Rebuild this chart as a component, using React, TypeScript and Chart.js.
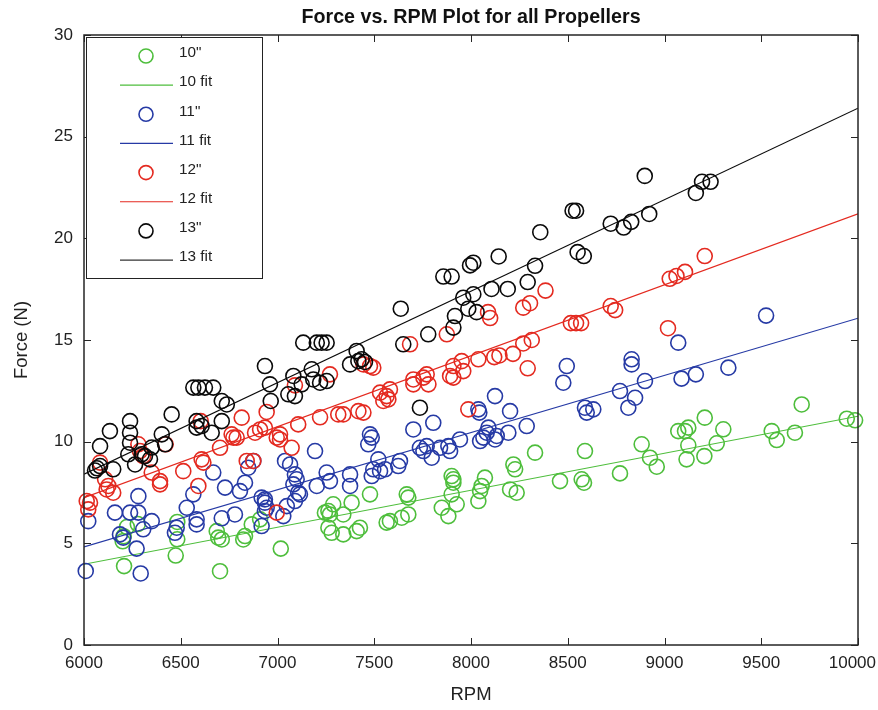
import React, { useEffect, useRef } from "react";
import { Chart, registerables } from "chart.js";

Chart.register(...registerables);

// Measured propeller thrust samples: [RPM, Force (N)]
const points10: [number, number][] = [
  [6222, 5.8], [6205, 5.35], [6200, 5.1], [6278, 5.95], [6207, 3.88], [6482, 6.05], [6482, 5.2], [6474, 4.4],
  [6686, 5.6], [6694, 5.28], [6712, 5.19], [6703, 3.63], [6823, 5.19], [6832, 5.36], [6867, 5.93], [6910, 6.18],
  [7017, 4.74], [7245, 6.51], [7263, 6.59], [7271, 6.42], [7340, 6.42], [7288, 6.92], [7383, 7.0], [7263, 5.77],
  [7280, 5.52], [7340, 5.44], [7409, 5.6], [7426, 5.77], [7478, 7.41], [7564, 6.02], [7581, 6.09], [7642, 6.26],
  [7676, 6.42], [7668, 7.41], [7676, 7.25], [7849, 6.75], [7883, 6.34], [7900, 8.31], [7909, 8.15], [7909, 7.98],
  [7900, 7.41], [7926, 6.92], [8072, 8.23], [8055, 7.82], [8047, 7.57], [8038, 7.08], [8202, 7.65], [8236, 7.49],
  [8219, 8.88], [8228, 8.64], [8331, 9.46], [8460, 8.06], [8572, 8.15], [8584, 7.98], [8589, 9.54], [8770, 8.44],
  [8882, 9.87], [8925, 9.21], [8960, 8.77], [9114, 9.13], [9206, 9.29], [9123, 9.82], [9270, 9.92], [9071, 10.52],
  [9106, 10.52], [9123, 10.69], [9304, 10.61], [9208, 11.18], [9554, 10.52], [9580, 10.08], [9674, 10.44],
  [9709, 11.83], [9942, 11.13], [9985, 11.05],
];

const points11: [number, number][] = [
  [6009, 3.64], [6022, 6.09], [6160, 6.51], [6238, 6.51], [6281, 6.51], [6281, 7.32], [6350, 6.09], [6186, 5.44],
  [6203, 5.28], [6306, 5.69], [6272, 4.74], [6293, 3.52], [6470, 5.52], [6479, 5.77], [6531, 6.75], [6565, 7.41],
  [6582, 6.18], [6582, 5.93], [6668, 8.48], [6712, 6.23], [6780, 6.42], [6729, 7.74], [6806, 7.57], [6832, 7.98],
  [6849, 8.72], [6875, 9.05], [6918, 5.85], [6935, 7.16], [6935, 7.0], [6944, 6.75], [6935, 6.59], [6918, 7.25],
  [7039, 9.05], [7065, 8.88], [7090, 8.39], [7099, 8.15], [7082, 7.9], [7107, 7.49], [7116, 7.41], [7090, 7.08],
  [7048, 6.83], [7030, 6.34], [7194, 9.54], [7254, 8.48], [7271, 8.06], [7375, 8.39], [7375, 7.82], [7203, 7.82],
  [7478, 10.36], [7487, 10.2], [7469, 9.87], [7521, 9.13], [7495, 8.64], [7530, 8.55], [7556, 8.64], [7487, 8.31],
  [7633, 9.05], [7624, 8.8], [7702, 10.6], [7805, 10.93], [7736, 9.7], [7771, 9.78], [7754, 9.54], [7797, 9.21],
  [7840, 9.7], [7883, 9.78], [7892, 9.54], [7943, 10.11], [8038, 11.59], [8043, 11.43], [8090, 10.69], [8081, 10.44],
  [8064, 10.2], [8047, 10.03], [8133, 10.28], [8124, 10.11], [8193, 10.44], [8124, 12.24], [8202, 11.5], [8288, 10.77],
  [8495, 13.72], [8477, 12.9], [8589, 11.67], [8598, 11.43], [8632, 11.59], [8770, 12.49], [8813, 11.67], [8848, 12.16],
  [8830, 14.05], [8830, 13.8], [8899, 12.98], [9071, 14.87], [9088, 13.1], [9162, 13.31], [9330, 13.64], [9525, 16.2],
];

const points12: [number, number][] = [
  [6014, 7.08], [6031, 7.0], [6022, 6.67], [6083, 8.97], [6109, 8.15], [6117, 7.65], [6126, 7.82], [6151, 7.49],
  [6281, 9.87], [6289, 9.54], [6306, 9.29], [6422, 9.87], [6350, 8.48], [6393, 8.06], [6393, 7.9], [6513, 8.55],
  [6591, 7.82], [6608, 9.13], [6617, 8.97], [6603, 11.01], [6703, 9.7], [6763, 10.36], [6772, 10.2], [6789, 10.2],
  [6815, 11.18], [6841, 9.05], [6875, 9.05], [6884, 10.44], [6910, 10.6], [6935, 10.69], [6944, 11.46], [6996, 10.2],
  [7013, 10.11], [7013, 10.36], [6996, 6.51], [7073, 9.7], [7107, 10.85], [7220, 11.2], [7271, 13.31], [7090, 12.77],
  [7314, 11.34], [7340, 11.34], [7418, 11.5], [7444, 11.43], [7444, 13.8], [7478, 13.72], [7495, 13.64], [7530, 12.41],
  [7564, 12.24], [7573, 12.08], [7547, 12.0], [7581, 12.57], [7685, 14.79], [7702, 13.06], [7702, 12.82], [7754, 13.15],
  [7771, 13.31], [7780, 12.82], [7875, 15.28], [7892, 13.23], [7909, 13.15], [7909, 13.72], [7952, 13.96], [7960, 13.47],
  [8038, 14.05], [7986, 11.59], [8088, 16.37], [8099, 16.08], [8120, 14.16], [8147, 14.24], [8217, 14.32], [8270, 14.83],
  [8314, 15.0], [8293, 13.61], [8270, 16.59], [8305, 16.81], [8385, 17.43], [8516, 15.83], [8543, 15.83], [8569, 15.83],
  [8722, 16.67], [8745, 16.47], [9018, 15.58], [9027, 18.01], [9062, 18.15], [9106, 18.35], [9208, 19.13],
];

const points13: [number, number][] = [
  [6057, 8.58], [6083, 8.8], [6067, 8.69], [6151, 8.64], [6083, 9.78], [6134, 10.52], [6238, 11.01], [6238, 10.44],
  [6238, 9.95], [6229, 9.38], [6264, 8.88], [6298, 9.38], [6315, 9.29], [6341, 9.13], [6350, 9.71], [6402, 10.36],
  [6419, 9.87], [6453, 11.34], [6565, 12.66], [6591, 12.66], [6625, 12.66], [6668, 12.66], [6582, 11.01], [6582, 10.69],
  [6608, 10.77], [6660, 10.44], [6712, 11.01], [6712, 12.0], [6738, 11.83], [6935, 13.72], [6961, 12.82], [6965, 12.0],
  [7056, 12.33], [7090, 12.24], [7082, 13.23], [7125, 12.82], [7177, 13.56], [7185, 13.06], [7220, 12.9], [7254, 12.98],
  [7133, 14.87], [7203, 14.87], [7228, 14.87], [7254, 14.87], [7409, 14.46], [7375, 13.8], [7418, 13.96], [7435, 14.05],
  [7452, 13.92], [7650, 14.79], [7637, 16.54], [7736, 11.67], [7779, 15.28], [7857, 18.12], [7900, 18.12], [7909, 15.61],
  [7917, 16.18], [7960, 17.08], [7986, 16.54], [8012, 17.25], [8029, 16.37], [7995, 18.67], [8012, 18.8], [8106, 17.51],
  [8190, 17.51], [8143, 19.11], [8293, 17.85], [8331, 18.65], [8358, 20.3], [8525, 21.36], [8543, 21.36], [8551, 19.32],
  [8583, 19.13], [8722, 20.72], [8789, 20.53], [8828, 20.81], [8921, 21.2], [8898, 23.07], [9162, 22.23], [9194, 22.78],
  [9238, 22.78],
];

// Linear fit end points over the RPM range
const fitRpm = [6000, 10000];
const fit10 = [3.97, 11.25];
const fit11 = [4.82, 16.07];
const fit12 = [7.25, 21.2];
const fit13 = [8.4, 26.4];

const xTicks = [6000, 6500, 7000, 7500, 8000, 8500, 9000, 9500, 10000];
const yTicks = [0, 5, 10, 15, 20, 25, 30];

const seriesLabels = ['10"', "10 fit", '11"', "11 fit", '12"', "12 fit", '13"', "13 fit"];

const GREEN = "rgb(78,190,60)";
const BLUE = "rgb(38,58,165)";
const RED = "rgb(228,42,32)";
const BLACK = "rgb(10,10,10)";

const FONT = "'Liberation Sans', Arial, Helvetica, sans-serif";

const toXY = (pts: [number, number][]) => pts.map(([x, y]) => ({ x, y }));
const fitXY = (vals: number[]) => fitRpm.map((x, i) => ({ x, y: vals[i] }));

// Box frame, inward ticks on all four sides, x tick labels, title, axis labels and legend
const framePlugin = {
  id: "matlabFrame",
  afterDraw(chart: any) {
    const { ctx, chartArea: a, scales, width } = chart;
    const xs = scales.x;
    const ys = scales.y;
    ctx.save();
    ctx.strokeStyle = "#262626";
    ctx.lineWidth = 1;
    const tl = 7;
    ctx.beginPath();
    xTicks.forEach((v) => {
      const px = Math.round(xs.getPixelForValue(v)) + 0.5;
      ctx.moveTo(px, a.bottom);
      ctx.lineTo(px, a.bottom - tl);
      ctx.moveTo(px, a.top);
      ctx.lineTo(px, a.top + tl);
    });
    yTicks.forEach((v) => {
      const py = Math.round(ys.getPixelForValue(v)) + 0.5;
      ctx.moveTo(a.left, py);
      ctx.lineTo(a.left + tl, py);
      ctx.moveTo(a.right, py);
      ctx.lineTo(a.right - tl, py);
    });
    ctx.stroke();
    ctx.lineWidth = 1.5;
    ctx.strokeRect(a.left, a.top, a.right - a.left, a.bottom - a.top);

    // X tick labels, kept inside the canvas at the right edge
    ctx.fillStyle = "#222";
    ctx.font = `17px ${FONT}`;
    ctx.textBaseline = "middle";
    ctx.textAlign = "center";
    xTicks.forEach((v) => {
      const label = String(v);
      const w = ctx.measureText(label).width;
      let px = xs.getPixelForValue(v);
      px = Math.min(px, width - 2 - w / 2);
      ctx.fillText(label, px, a.bottom + 18);
    });

    // Legend box
    const lx = 86, ly = 37, lw = 176, lh = 241;
    ctx.fillStyle = "#fff";
    ctx.fillRect(lx, ly, lw, lh);
    ctx.lineWidth = 1;
    ctx.strokeStyle = "#222";
    ctx.strokeRect(lx + 0.5, ly + 0.5, lw, lh);
    const colors = [GREEN, GREEN, BLUE, BLUE, RED, RED, BLACK, "#333"];
    seriesLabels.forEach((label, i) => {
      const cy = 56 + i * 29.15;
      ctx.strokeStyle = colors[i];
      if (i % 2 === 0) {
        ctx.lineWidth = 1.6;
        ctx.beginPath();
        ctx.arc(146, cy, 7, 0, Math.PI * 2);
        ctx.stroke();
      } else {
        ctx.lineWidth = 1.2;
        ctx.beginPath();
        ctx.moveTo(120, cy);
        ctx.lineTo(173, cy);
        ctx.stroke();
      }
      ctx.fillStyle = "#222";
      ctx.font = `15.3px ${FONT}`;
      ctx.textAlign = "left";
      ctx.textBaseline = "middle";
      ctx.fillText(label, 179, cy - 3);
    });

    // Title and axis labels
    const cx = (a.left + a.right) / 2;
    ctx.fillStyle = "#111";
    ctx.textAlign = "center";
    ctx.textBaseline = "middle";
    ctx.font = `bold 19.7px ${FONT}`;
    ctx.fillText("Force vs. RPM Plot for all Propellers", cx, 18);
    ctx.fillStyle = "#222";
    ctx.font = `18.5px ${FONT}`;
    ctx.fillText("RPM", cx, 695);
    ctx.translate(22, (a.top + a.bottom) / 2);
    ctx.rotate(-Math.PI / 2);
    ctx.fillText("Force (N)", 0, 0);
    ctx.restore();
  },
};

export default function App() {
  const ref = useRef<HTMLCanvasElement | null>(null);

  useEffect(() => {
    if (!ref.current) return;
    const scatter = (label: string, pts: [number, number][], color: string, order: number) => ({
      type: "scatter" as const,
      label,
      data: toXY(pts),
      borderColor: color,
      backgroundColor: "rgba(0,0,0,0)",
      pointStyle: "circle",
      pointRadius: 7.5,
      pointBorderWidth: 1.6,
      showLine: false,
      clip: false as any,
      order,
    });
    const fit = (label: string, vals: number[], color: string, order: number) => ({
      type: "line" as const,
      label,
      data: fitXY(vals),
      borderColor: color,
      borderWidth: 1.2,
      pointRadius: 0,
      fill: false,
      tension: 0,
      order,
    });

    const chart = new Chart(ref.current, {
      type: "scatter",
      data: {
        datasets: [
          scatter(seriesLabels[0], points10, GREEN, 8),
          fit(seriesLabels[1], fit10, GREEN, 7),
          scatter(seriesLabels[2], points11, BLUE, 6),
          fit(seriesLabels[3], fit11, BLUE, 5),
          scatter(seriesLabels[4], points12, RED, 4),
          fit(seriesLabels[5], fit12, RED, 3),
          scatter(seriesLabels[6], points13, BLACK, 2),
          fit(seriesLabels[7], fit13, BLACK, 1),
        ] as any,
      },
      options: {
        animation: false,
        responsive: false,
        maintainAspectRatio: false,
        layout: { padding: { top: 35, right: 20, left: 0, bottom: 0 } },
        plugins: {
          legend: { display: false },
          title: { display: false },
          tooltip: { enabled: false },
        },
        scales: {
          x: {
            type: "linear",
            min: 6000,
            max: 10000,
            afterBuildTicks: (s: any) => {
              s.ticks = xTicks.map((v) => ({ value: v }));
            },
            afterFit: (s: any) => {
              s.height = 65;
              s.paddingLeft = 0;
              s.paddingRight = 0;
            },
            grid: { display: false, drawTicks: false },
            border: { display: false },
            ticks: { display: false },
          },
          y: {
            type: "linear",
            min: 0,
            max: 30,
            afterBuildTicks: (s: any) => {
              s.ticks = yTicks.map((v) => ({ value: v }));
            },
            afterFit: (s: any) => {
              s.width = 84;
              s.paddingTop = 0;
              s.paddingBottom = 0;
            },
            grid: { display: false, drawTicks: false },
            border: { display: false },
            ticks: {
              padding: 11,
              color: "#222",
              font: { family: FONT, size: 17 },
              autoSkip: false,
              callback: (v: any) => String(v),
            },
          },
        },
      },
      plugins: [framePlugin],
    });
    return () => chart.destroy();
  }, []);

  return (
    <div style={{ position: "fixed", left: 0, top: 0, width: 878, height: 710, background: "#fff" }}>
      <canvas ref={ref} width={878} height={710} style={{ width: 878, height: 710, display: "block" }} />
    </div>
  );
}
